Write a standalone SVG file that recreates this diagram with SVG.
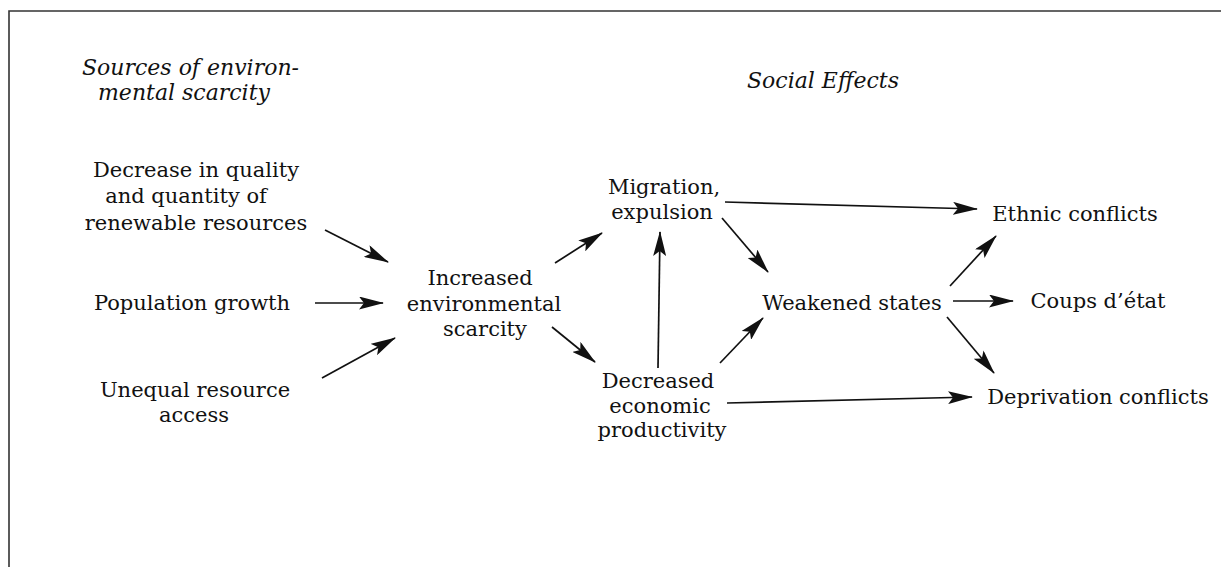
<svg xmlns="http://www.w3.org/2000/svg" width="1221" height="567" viewBox="0 0 1221 567">
<style>
text{font-family:"DejaVu Serif","Liberation Serif",serif;font-size:21px;fill:#111;text-anchor:middle}
.it{font-style:italic;text-anchor:start;font-size:22px}
.c line{stroke:#111;stroke-width:1.7;marker-end:url(#ah)}
</style>
<defs>
<marker id="ah" markerUnits="userSpaceOnUse" markerWidth="25" markerHeight="13" viewBox="0 0 25 13" refX="24" refY="6.5" orient="auto">
<path d="M0,0 L25,6.5 L0,13 L5,6.5 Z" fill="#111"/>
</marker>
</defs>
<rect width="1221" height="567" fill="#fff"/>
<path d="M9,567 V11 H1221" fill="none" stroke="#333" stroke-width="1.6"/>
<g id="title-sources"><text class="it" x="82" y="75">Sources of environ-</text><text class="it" x="98" y="100">mental scarcity</text></g>
<g id="title-social"><text class="it" x="747" y="88">Social Effects</text></g>
<g id="n-decrease"><text x="196" y="177">Decrease in quality</text><text x="186" y="203">and quantity of</text><text x="196" y="230">renewable resources</text></g>
<g id="n-population"><text x="192" y="310">Population growth</text></g>
<g id="n-unequal"><text x="195" y="397">Unequal resource</text><text x="194" y="422">access</text></g>
<g id="n-increased"><text x="480" y="285">Increased</text><text x="484" y="311">environmental</text><text x="485" y="336">scarcity</text></g>
<g id="n-migration"><text x="664" y="194">Migration,</text><text x="662" y="219">expulsion</text></g>
<g id="n-decreased"><text x="658" y="388">Decreased</text><text x="660" y="413">economic</text><text x="662" y="437">productivity</text></g>
<g id="n-weakened"><text x="852" y="310">Weakened states</text></g>
<g id="n-ethnic"><text x="1075" y="221">Ethnic conflicts</text></g>
<g id="n-coups"><text x="1098" y="308">Coups d’état</text></g>
<g id="n-deprivation"><text x="1098" y="404">Deprivation conflicts</text></g>
<g class="c" id="connectors">
<line x1="325" y1="230" x2="388" y2="262"/>
<line x1="315" y1="303" x2="383" y2="303"/>
<line x1="322" y1="378" x2="395" y2="338"/>
<line x1="555" y1="263" x2="602" y2="233"/>
<line x1="552" y1="327" x2="595" y2="362"/>
<line x1="658" y1="368" x2="660" y2="232"/>
<line x1="722" y1="218" x2="768" y2="272"/>
<line x1="720" y1="363" x2="763" y2="318"/>
<line x1="725" y1="202" x2="977" y2="209"/>
<line x1="727" y1="403" x2="972" y2="397"/>
<line x1="950" y1="286" x2="996" y2="236"/>
<line x1="953" y1="301" x2="1013" y2="301"/>
<line x1="947" y1="317" x2="994" y2="373"/>
</g>
</svg>
